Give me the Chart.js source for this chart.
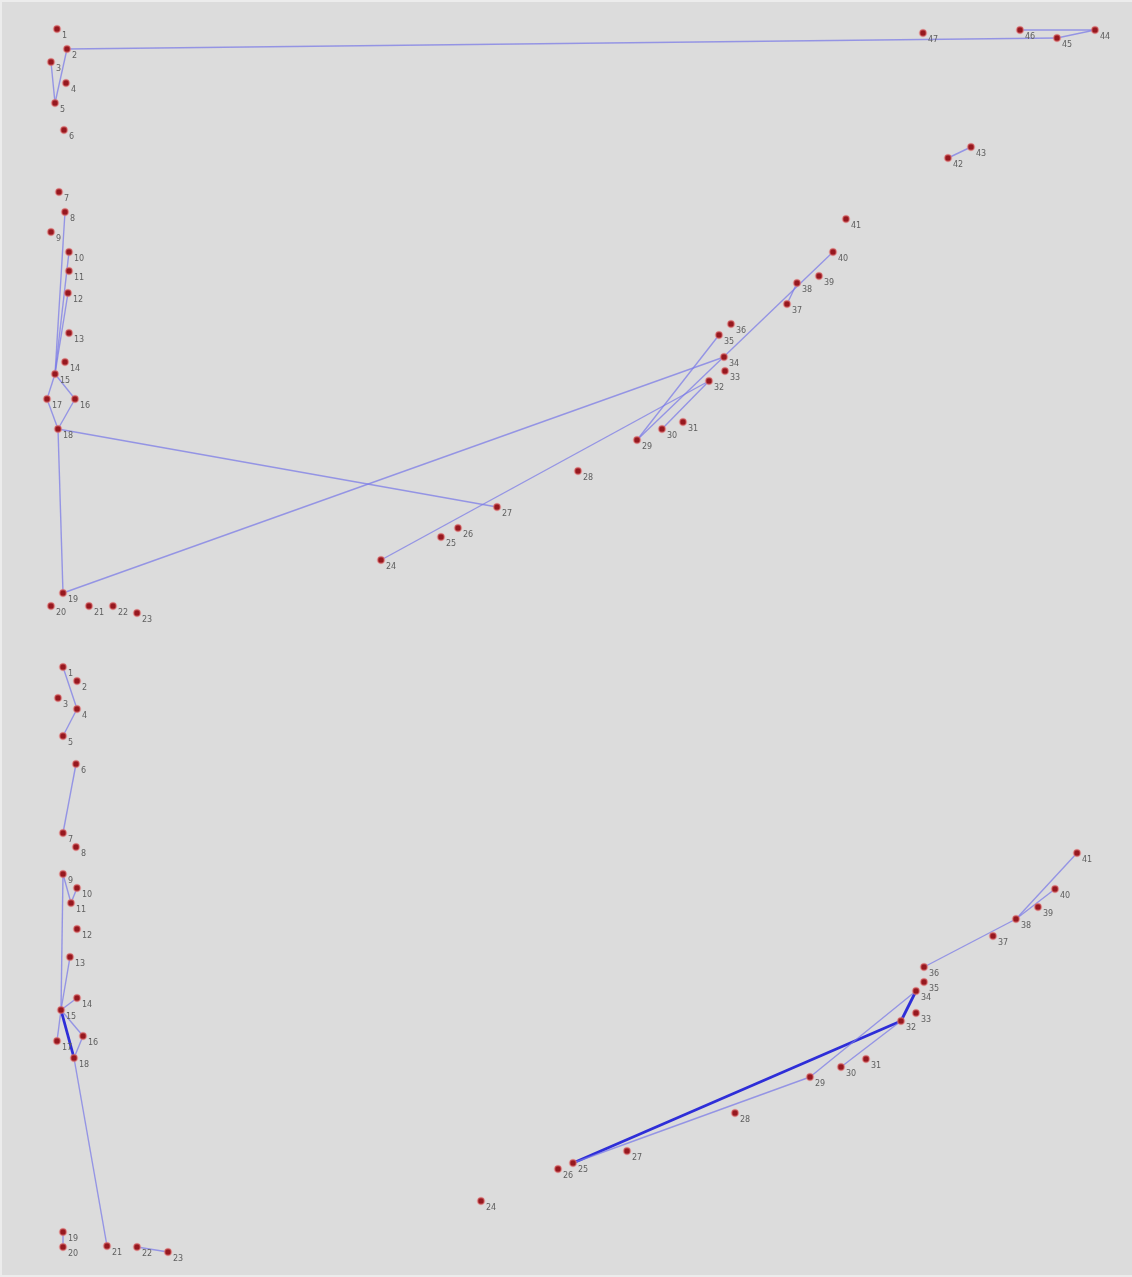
<!DOCTYPE html>
<html>
<head>
<meta charset="utf-8">
<script src="https://cdn.jsdelivr.net/npm/chart.js@4"></script>
<style>
  html, body { margin: 0; padding: 0; background: #dcdcdc; }
  #wrap { width: 1132px; height: 1277px; position: relative; }
  canvas { display: block; }
</style>
</head>
<body>
<div id="wrap"><canvas id="c" width="1132" height="1277"></canvas></div>
<script>
// Upper network: node ids and their positions in layout units
const upperIds = ['1','2','3','4','5','6','7','8','9','10','11','12','13','14','15','16','17','18','19','20','21','22','23','24','25','26','27','28','29','30','31','32','33','34','35','36','37','38','39','40','41','42','43','44','45','46','47'];
const upperX = [57,67,51,66,55,64,59,65,51,69,69,68,69,65,55,75,47,58,63,51,89,113,137,381,441,458,497,578,637,662,683,709,725,724,719,731,787,797,819,833,846,948,971,1095,1057,1020,923];
const upperY = [29,49,62,83,103,130,192,212,232,252,271,293,333,362,374,399,399,429,593,606,606,606,613,560,537,528,507,471,440,429,422,381,371,357,335,324,304,283,276,252,219,158,147,30,38,30,33];
const upperLinks = [['2','5'],['3','5'],['2','45'],['45','44'],['46','44'],['42','43'],['8','15'],['10','15'],['12','15'],['15','17'],['15','16'],['17','18'],['16','18'],['18','19'],['18','27'],['19','34'],['24','32'],['29','35'],['29','40'],['30','32'],['38','37']];

// Lower network
const lowerIds = ['1','2','3','4','5','6','7','8','9','10','11','12','13','14','15','16','17','18','19','20','21','22','23','24','25','26','27','28','29','30','31','32','33','34','35','36','37','38','39','40','41'];
const lowerX = [63,77,58,77,63,76,63,76,63,77,71,77,70,77,61,83,57,74,63,63,107,137,168,481,573,558,627,735,810,841,866,901,916,916,924,924,993,1016,1038,1055,1077];
const lowerY = [667,681,698,709,736,764,833,847,874,888,903,929,957,998,1010,1036,1041,1058,1232,1247,1246,1247,1252,1201,1163,1169,1151,1113,1077,1067,1059,1021,1013,991,982,967,936,919,907,889,853];
const lowerLinks = [['1','4'],['4','5'],['6','7'],['9','15'],['9','11'],['10','11'],['13','15'],['14','15'],['15','17'],['15','16'],['16','18'],['18','21'],['19','20'],['22','23'],['25','29'],['29','34'],['30','32'],['36','38'],['38','41'],['38','40']];
const lowerStrongLinks = [['15','18'],['25','32'],['32','34']];

function nodePoints(ids, xs, ys) {
  return ids.map((id, i) => ({ x: xs[i], y: ys[i], id: id }));
}
function linkSets(links, ids, xs, ys, color, width) {
  return links.map(([a, b]) => {
    const i = ids.indexOf(a), j = ids.indexOf(b);
    return {
      type: 'line',
      data: [{ x: xs[i], y: ys[i] }, { x: xs[j], y: ys[j] }],
      borderColor: color,
      borderWidth: width,
      pointRadius: 0,
      pointHoverRadius: 0,
      fill: false,
      tension: 0,
      order: 2
    };
  });
}

const thin = 'rgba(120,120,232,0.72)';
const strong = 'rgba(30,30,215,0.92)';

const nodeStyle = {
  type: 'scatter',
  pointRadius: 3.4,
  pointBackgroundColor: '#96181f',
  pointBorderColor: 'rgba(235,130,130,0.5)',
  pointBorderWidth: 1.8,
  order: 1
};

const datasets = [
  ...linkSets(upperLinks, upperIds, upperX, upperY, thin, 1.4),
  ...linkSets(lowerLinks, lowerIds, lowerX, lowerY, thin, 1.4),
  ...linkSets(lowerStrongLinks, lowerIds, lowerX, lowerY, strong, 2.8),
  Object.assign({ label: 'upper', data: nodePoints(upperIds, upperX, upperY) }, nodeStyle),
  Object.assign({ label: 'lower', data: nodePoints(lowerIds, lowerX, lowerY) }, nodeStyle)
];

// Writes each node's id just below and to the right of its marker
const nodeLabels = {
  id: 'nodeLabels',
  afterDatasetsDraw(chart) {
    const ctx = chart.ctx;
    const xs = chart.scales.x, ys = chart.scales.y;
    ctx.save();
    ctx.font = '8px "DejaVu Sans", sans-serif';
    ctx.fillStyle = '#5e5e5e';
    ctx.textBaseline = 'middle';
    ctx.textAlign = 'left';
    chart.data.datasets.forEach(ds => {
      if (ds.type !== 'scatter') return;
      ds.data.forEach(p => {
        ctx.fillText(p.id, xs.getPixelForValue(p.x) + 5, ys.getPixelForValue(p.y) + 7);
      });
    });
    ctx.restore();
  }
};

// Light frame around the drawing area
const frame = {
  id: 'frame',
  beforeDraw(chart) {
    const ctx = chart.ctx;
    ctx.save();
    ctx.fillStyle = '#dcdcdc';
    ctx.fillRect(0, 0, chart.width, chart.height);
    ctx.fillStyle = '#ececec';
    ctx.fillRect(0, 0, chart.width, 2);
    ctx.fillRect(0, 0, 2, chart.height);
    ctx.fillRect(0, chart.height - 2, chart.width, 2);
    ctx.restore();
  }
};

new Chart(document.getElementById('c'), {
  type: 'scatter',
  data: { datasets: datasets },
  options: {
    responsive: false,
    animation: false,
    layout: { padding: 0, autoPadding: false },
    plugins: { legend: { display: false }, tooltip: { enabled: false } },
    scales: {
      x: { type: 'linear', min: 0, max: 1132, display: false },
      y: { type: 'linear', min: 0, max: 1277, reverse: true, display: false }
    }
  },
  plugins: [frame, nodeLabels]
});
</script>
</body>
</html>
